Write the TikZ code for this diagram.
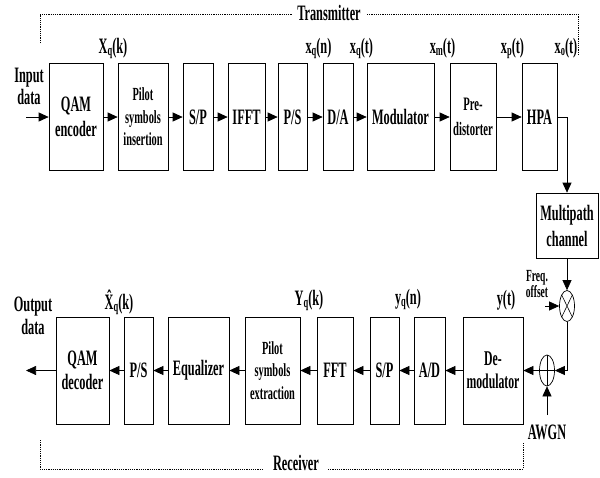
\documentclass[tikz,border=0pt]{standalone}
\usepackage{fontspec}
\setmainfont{Liberation Serif}[FakeStretch=0.56]
\usetikzlibrary{arrows.meta,shapes.geometric}

\tikzset{
  blk/.style={draw, line width=0.7pt, minimum height=107pt, inner sep=0pt, align=center,
    font=\fontsize{22}{24.5}\selectfont\bfseries},
  sblk/.style={blk, font=\fontsize{18.5}{22.5}\selectfont\bfseries},
  sig/.style={inner sep=0pt, anchor=base, font=\fontsize{22}{24}\selectfont\bfseries},
  arr/.style={line width=0.7pt, -{Triangle[length=10pt,width=9pt]}},
  frame/.style={line width=0.6pt, dash pattern=on 1.2pt off 1pt},
  mixer/.style={draw, ellipse, line width=0.7pt, minimum width=15pt, minimum height=31pt, inner sep=0pt},
}
\newcommand{\sbq}[1]{\raisebox{-2.5pt}{\fontsize{15}{15}\selectfont #1}}

\begin{document}
\begin{tikzpicture}[x=1pt,y=-1pt]
    \useasboundingbox (0,0) rectangle (600,477);

    % Transmitter chain
    \node[blk, minimum width=54pt] (qamenc) at (76,117) {QAM\\encoder};
    \node[sblk, minimum width=50pt] (pilotins) at (143,117) {Pilot\\symbols\\insertion};
    \node[blk, minimum width=30pt] (sp1) at (198,117) {S/P};
    \node[blk, minimum width=37pt] (ifft) at (246.5,117) {IFFT};
    \node[blk, minimum width=29pt] (ps1) at (292.5,117) {P/S};
    \node[blk, minimum width=30pt] (da) at (338,117) {D/A};
    \node[blk, minimum width=67pt] (mod) at (400.5,117) {Modulator};
    \node[blk, minimum width=46pt, font=\fontsize{19}{25}\selectfont\bfseries] (predist) at (473,117) {Pre-\\distorter};
    \node[blk, minimum width=35pt] (hpa) at (539.5,117) {HPA};

    \node[sig, anchor=center] (indata) at (29,89) {\begin{tabular}{@{}c@{}}Input\\[-2pt]data\end{tabular}};
    \coordinate (in) at (26,117);

    % Signal labels (top)
    \node[sig] (lXqk) at (113,53) {X\sbq{q}(k)};
    \node[sig] (lxqn) at (318.5,53) {x\sbq{q}(n)};
    \node[sig] (lxqt) at (361.5,53) {x\sbq{q}(t)};
    \node[sig] (lxmt) at (442.5,53) {x\sbq{m}(t)};
    \node[sig] (lxpt) at (512.5,53) {x\sbq{p}(t)};
    \node[sig] (lxot) at (566,53) {x\sbq{o}(t)};

    % Channel
    \node[blk, minimum width=62pt, minimum height=65pt, font=\fontsize{22}{26}\selectfont\bfseries] (mpc) at (567,225.5) {Multipath\\channel};
    \node[mixer, path picture={\draw[line width=0.6pt] (path picture bounding box.north west) -- (path picture bounding box.south east)
        (path picture bounding box.north east) -- (path picture bounding box.south west);}] (mix) at (567,306) {};
    \node[sig, anchor=center, font=\fontsize{17}{15}\selectfont\bfseries] (freq) at (537,286) {\begin{tabular}{@{}c@{}}Freq.\\offset\end{tabular}};
    \coordinate (fo) at (545,306);
    \node[mixer, path picture={\draw[line width=0.6pt] (path picture bounding box.north) -- (path picture bounding box.south)
        (path picture bounding box.west) -- (path picture bounding box.east);}] (add) at (547,370.5) {};
    \node[sig, anchor=center] (awgn) at (547,432) {AWGN};
    \coordinate (aw) at (547,415);

    % Receiver chain
    \node[blk, minimum width=60pt, font=\fontsize{21}{23}\selectfont\bfseries] (demod) at (493,370.5) {De-\\modulator};
    \node[blk, minimum width=31pt] (ad) at (429.5,370.5) {A/D};
    \node[blk, minimum width=29pt] (sp2) at (384.5,370.5) {S/P};
    \node[blk, minimum width=36pt] (fft) at (335,370.5) {FFT};
    \node[sblk, minimum width=55pt] (pilotext) at (272.5,370.5) {Pilot\\symbols\\extraction};
    \node[blk, minimum width=61pt] (eq) at (198.5,370.5) {Equalizer};
    \node[blk, minimum width=29pt] (ps2) at (138.5,370.5) {P/S};
    \node[blk, minimum width=53pt] (qamdec) at (82.5,370.5) {QAM\\decoder};

    \node[sig, anchor=center] (outdata) at (33,318) {\begin{tabular}{@{}c@{}}Output\\[-1pt]data\end{tabular}};
    \coordinate (out) at (26,370.5);

    % Signal labels (bottom)
    \node[sig] (lXhqk) at (119,309) {\^{X}\sbq{q}(k)};
    \node[sig] (lYqk) at (309,305) {Y\sbq{q}(k)};
    \node[sig] (lyqn) at (408,304) {y\sbq{q}(n)};
    \node[sig] (lyt) at (506,305) {y(t)};

    % Connections
    \draw[arr] (in) -- (qamenc);
    \foreach \a/\b in {qamenc/pilotins, pilotins/sp1, sp1/ifft, ifft/ps1, ps1/da, da/mod, mod/predist, predist/hpa}
        \draw[arr] (\a) -- (\b);
    \draw[arr] (hpa.east) -| (mpc.north);
    \draw[arr] (mpc) -- (mix);
    \draw[arr] (fo) -- (mix);
    \draw[arr] (mix.south) |- (add.east);
    \draw[arr] (aw) -- (add);
    \draw[arr] (add) -- (demod);
    \foreach \a/\b in {demod/ad, ad/sp2, sp2/fft, fft/pilotext, pilotext/eq, eq/ps2, ps2/qamdec}
        \draw[arr] (\a) -- (\b);
    \draw[arr] (qamdec) -- (out);

    % Transmitter / Receiver frames
    \node[sig] (tx) at (329,20) {Transmitter};
    \draw[frame] (40,43) -- (40,14) -- (292,14);
    \draw[frame] (367,14) -- (578,14) -- (578,55);
    \node[sig] (rx) at (296,470) {Receiver};
    \draw[frame] (40,440) -- (40,469) -- (262,469);
    \draw[frame] (328,469) -- (523,469) -- (523,442);
\end{tikzpicture}
\end{document}
